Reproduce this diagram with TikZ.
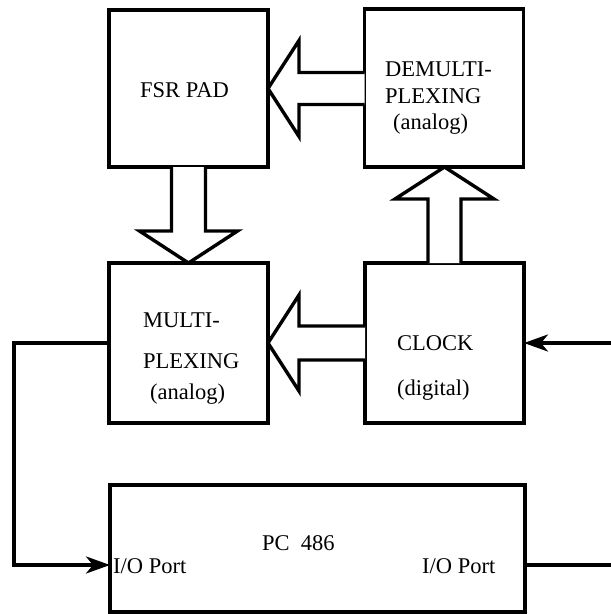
\documentclass[tikz,border=0pt]{standalone}
\usepackage{fontspec}
\setmainfont{Liberation Serif}
\usetikzlibrary{calc,arrows.meta}
\begin{document}
\begin{tikzpicture}[x=1pt,y=-1pt,
  lw/.style={line width=3.4pt},
  box/.style={draw,lw,rectangle,inner sep=0pt,outer sep=0pt},
  blk/.style={draw,lw,line join=miter,fill=white},
  conn/.style={draw,lw,line join=miter},
  arr/.style={conn,-{Stealth[length=24pt,width=17pt,inset=7pt]}},
  lbl/.style={anchor=base west,inner sep=0pt,font=\fontsize{22.5}{27}\selectfont}]
\useasboundingbox (0,0) rectangle (611,614);
% boxes
\node[box,minimum width=159pt,minimum height=157pt] (fsr) at (188.5,88.5) {};
\node[box,minimum width=159pt,minimum height=158pt] (demux) at (444,88) {};
\node[box,minimum width=159pt,minimum height=160pt] (mux) at (188.5,343) {};
\node[box,minimum width=159pt,minimum height=160pt] (clock) at (444.5,343) {};
\node[box,minimum width=415pt,minimum height=127pt] (pc) at (317.5,548.5) {};
% texts
\node[lbl] (tfsr) at (140,97) {FSR PAD};
\node[lbl] (tdm1) at (385,76) {DEMULTI-};
\node[lbl] (tdm2) at (385,103) {PLEXING};
\node[lbl] (tdm3) at (393,129) {(analog)};
\node[lbl] (tm1) at (143,327) {MULTI-};
\node[lbl] (tm2) at (143,368) {PLEXING};
\node[lbl] (tm3) at (150,399) {(analog)};
\node[lbl] (tc1) at (397,350) {CLOCK};
\node[lbl] (tc2) at (397,395) {(digital)};
\node[lbl] (tpc) at (262,550) {PC\ \ 486};
\node[lbl] (tio1) at (113,573) {I/O Port};
\node[lbl] (tio2) at (422,573) {I/O Port};
% hollow block arrows
\draw[blk] ($(fsr.east -| demux.west)+(0,-16)$) -- ($(fsr.east)+(31,-16)$) -- ++(0,-32)
  -- (fsr.east) -- ($(fsr.east)+(31,48)$) -- ++(0,-32) -- ($(fsr.east -| demux.west)+(0,16)$);
\draw[blk] ($(mux.east -| clock.west)+(0,-17)$) -- ($(mux.east)+(31,-17)$) -- ++(0,-31)
  -- (mux.east) -- ($(mux.east)+(31,48)$) -- ++(0,-31) -- ($(mux.east -| clock.west)+(0,17)$);
\draw[blk] ($(fsr.south)+(-17,0)$) -- ($(mux.north)+(-17,-32)$) -- ++(-32,0)
  -- (mux.north) -- ($(mux.north)+(49,-32)$) -- ++(-32,0) -- ($(fsr.south)+(17,0)$);
\draw[blk] ($(clock.north)+(-16.5,0)$) -- ($(clock.north |- demux.south)+(-16.5,32)$) -- ++(-33,0)
  -- (clock.north |- demux.south) -- ($(clock.north |- demux.south)+(49.5,32)$) -- ++(-33,0) -- ($(clock.north)+(16.5,0)$);
% connectors
\coordinate (pin) at ($(pc.west)+(0,16.5)$);
\coordinate (pout) at ($(pc.east)+(0,16.5)$);
\coordinate (lx) at (14,343);
\coordinate (rin) at (611,343);
\coordinate (rout) at (611,565);
\draw[arr] (mux.west) -- (lx) |- (pin);
\draw[arr] (rin) -- (clock.east);
\draw[conn] (pout) -- (rout);
\end{tikzpicture}
\end{document}
